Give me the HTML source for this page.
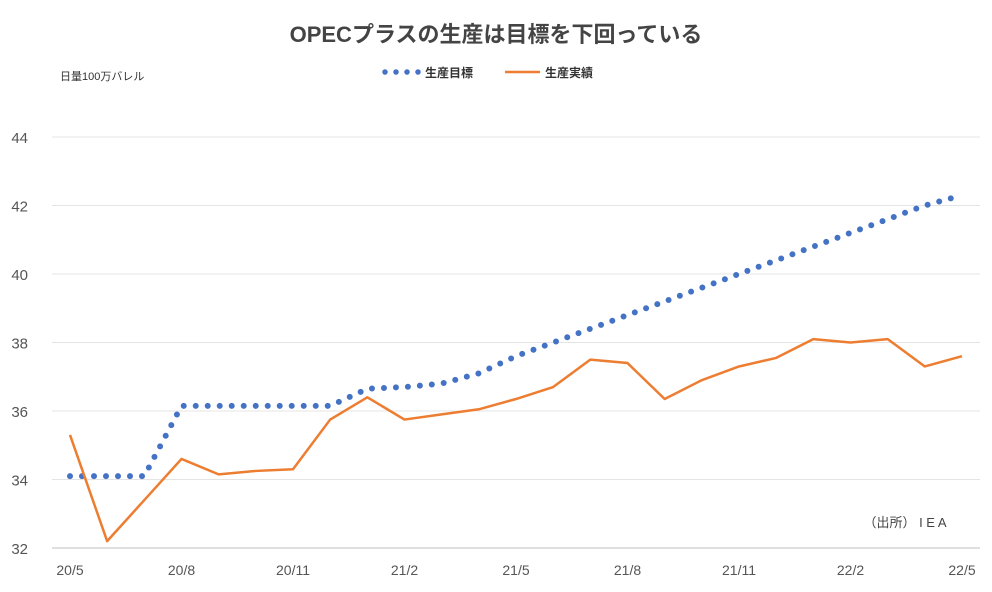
<!DOCTYPE html>
<html><head><meta charset="utf-8">
<style>
body{margin:0;background:#fff;font-family:"Liberation Sans","Noto Sans CJK JP",sans-serif;}
svg text{font-family:"Liberation Sans","Noto Sans CJK JP",sans-serif;}
</style></head>
<body>
<svg id="chart" width="992" height="587" viewBox="0 0 992 587">
<rect x="0" y="0" width="992" height="587" fill="#fff"/>
<text x="496" y="42" text-anchor="middle" font-size="22" font-weight="bold" fill="#444">OPECプラスの生産は目標を下回っている</text>
<text x="60" y="80" font-size="11" fill="#333">日量100万バレル</text>
<g>
<line x1="385" y1="72" x2="420" y2="72" stroke="#4472C4" stroke-width="5.5" stroke-dasharray="0 11" stroke-linecap="round"/>
<text x="425" y="77" font-size="12" font-weight="bold" fill="#333">生産目標</text>
<line x1="505" y1="72" x2="540" y2="72" stroke="#ED7D31" stroke-width="2.5"/>
<text x="545" y="77" font-size="12" font-weight="bold" fill="#333">生産実績</text>
</g>
<g id="grid"></g><g id="yticks"></g><g id="xticks"></g><g id="series"></g>
<text x="905" y="527" text-anchor="middle" font-size="13" fill="#444">（出所）  I  E  A</text>
</svg>
<script>
const months=["20/5","20/6","20/7","20/8","20/9","20/10","20/11","20/12","21/1","21/2","21/3","21/4","21/5","21/6","21/7","21/8","21/9","21/10","21/11","21/12","22/1","22/2","22/3","22/4","22/5"];
const targetValues=[34.1,34.1,34.1,36.15,36.15,36.15,36.15,36.15,36.65,36.7,36.8,37.1,37.6,38.0,38.4,38.8,39.2,39.6,40.0,40.4,40.8,41.2,41.6,42.0,42.3];
const actualValues=[35.3,32.2,33.4,34.6,34.15,34.25,34.3,35.75,36.4,35.75,35.9,36.05,36.35,36.7,37.5,37.4,36.35,36.9,37.3,37.55,38.1,38.0,38.1,37.3,37.6];
const yTicks=[32,34,36,38,40,42,44];
const xTickLabels=["20/5","20/8","20/11","21/2","21/5","21/8","21/11","22/2","22/5"];
const NS="http://www.w3.org/2000/svg";
const x=i=>70+i*(962-70)/(months.length-1);
const y=v=>548-(v-32)*(548-137)/12;
function mk(t,a,p){const e=document.createElementNS(NS,t);for(const k in a)e.setAttribute(k,a[k]);p.appendChild(e);return e;}
const grid=document.getElementById('grid'),yt=document.getElementById('yticks'),xt=document.getElementById('xticks'),se=document.getElementById('series');
yTicks.forEach(v=>{
 const l=mk('line',{x1:52,x2:980,y1:y(v),y2:y(v),stroke:v===32?'#bfbfbf':'#e4e4e4','stroke-width':1},grid);
 
 
 const t=mk('text',{x:28,y:y(v)+6,'text-anchor':'end','font-size':15,fill:'#555'},yt);t.textContent=v;
 
 
});
xTickLabels.forEach(lab=>{
 const i=months.indexOf(lab);
 const t=mk('text',{x:x(i),y:575,'text-anchor':'middle','font-size':14,fill:'#555'},xt);t.textContent=lab;
 
 
});
const tp=mk('polyline',{points:targetValues.map((v,i)=>x(i)+','+y(v)).join(' '),fill:'none',stroke:'#4472C4','stroke-width':6,'stroke-linecap':'round','stroke-dasharray':'0 12'},se);


const ap=mk('polyline',{points:actualValues.map((v,i)=>x(i)+','+y(v)).join(' '),fill:'none',stroke:'#ED7D31','stroke-width':2.5,'stroke-linejoin':'round'},se);


</script>
</body></html>
